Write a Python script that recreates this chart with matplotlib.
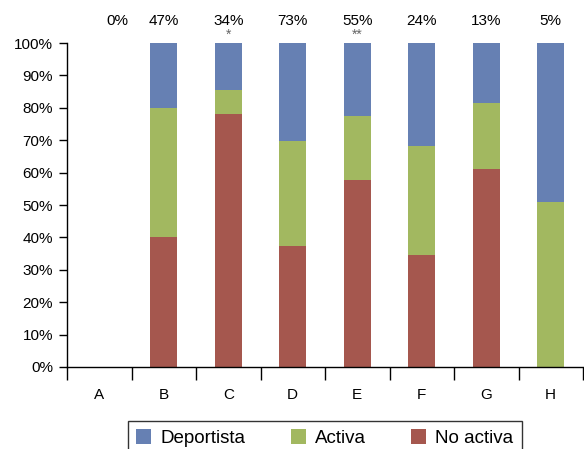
import matplotlib
matplotlib.use("Agg")
import matplotlib.pyplot as plt
import numpy as np

plt.rcParams['font.family'] = ['Liberation Sans', 'DejaVu Sans']

categories = ["A", "B", "C", "D", "E", "F", "G", "H"]
no_activa = [0, 40.1, 78.1, 37.3, 57.7, 34.6, 61.1, 0]
activa = [0, 39.9, 7.4, 32.5, 19.8, 33.6, 20.4, 50.9]
deportista = [0, 20.0, 14.5, 30.2, 22.5, 31.8, 18.5, 49.1]
top_labels = ["0%", "47%", "34%", "73%", "55%", "24%", "13%", "5%"]
stars = ["", "", "*", "", "**", "", "", ""]

c_dep = "#6680B3"
c_act = "#A2B860"
c_no = "#A5574E"

fig = plt.figure(figsize=(5.84, 4.49), dpi=100)
ax = fig.add_axes([67/584, 82/449, 516/584, 324/449])

x = np.arange(len(categories))
w = 0.42
no = np.array(no_activa); ac = np.array(activa); de = np.array(deportista)
vis = (no + ac + de) > 0
ax.bar(x[vis], no[vis], w, color=c_no, label="No activa")
ax.bar(x[vis], ac[vis], w, bottom=no[vis], color=c_act, label="Activa")
ax.bar(x[vis], de[vis], w, bottom=(no + ac)[vis], color=c_dep, label="Deportista")

ax.set_xlim(-0.5, len(categories) - 0.5)
ax.set_ylim(0, 100)
ax.set_yticks(np.arange(0, 101, 10))
ax.set_yticklabels([f"{v}%" for v in range(0, 101, 10)], fontsize=11)
ax.set_xticks(np.arange(-0.5, len(categories), 1))
ax.set_xticklabels([])
ax.set_xticks(x, minor=True)
ax.set_xticklabels(categories, minor=True, fontsize=11)
ax.tick_params(axis='x', which='minor', length=0, pad=15)
ax.tick_params(axis='x', which='major', length=9, width=1, direction='out')
ax.tick_params(axis='y', length=6, width=1, direction='out', pad=4)
ax.spines['top'].set_visible(False)
ax.spines['right'].set_visible(False)
ax.spines['left'].set_linewidth(1)
ax.spines['bottom'].set_linewidth(1)

for i, (t, s) in enumerate(zip(top_labels, stars)):
    ax.text(i + 0.28 if i == 0 else i, 1.068, t, transform=ax.get_xaxis_transform(),
            ha='center', va='center', fontsize=11)
    if s:
        ax.text(i, 1.025, s, transform=ax.get_xaxis_transform(),
                ha='center', va='center', fontsize=10, color='#666666')

handles, labels = ax.get_legend_handles_labels()
order = [2, 1, 0]
leg = fig.legend([handles[i] for i in order], [labels[i] for i in order],
                 loc='lower center', bbox_to_anchor=(325/584, -0.035), ncol=3,
                 fontsize=13.5, frameon=True, fancybox=False, edgecolor='black',
                 handlelength=0.8, handleheight=0.8, columnspacing=2.4,
                 handletextpad=0.5, borderpad=0.45)
leg.get_frame().set_linewidth(1)

fig.savefig("out.png", dpi=100)
